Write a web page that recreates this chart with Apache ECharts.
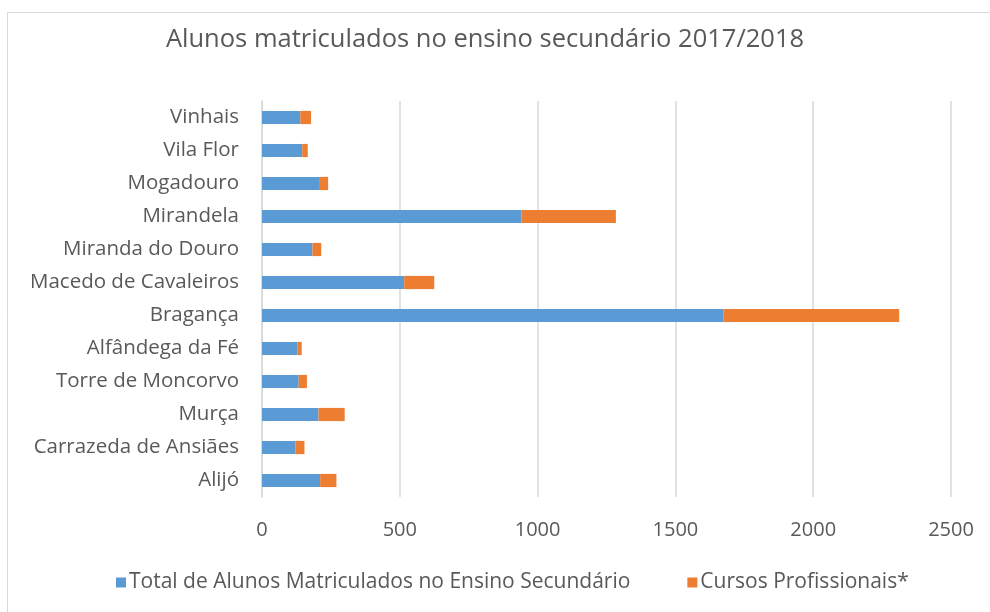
<!DOCTYPE html>
<html>
<head>
<meta charset="utf-8">
<script src="https://cdn.jsdelivr.net/npm/echarts@6/dist/echarts.min.js"></script>
<style>
  html, body { margin: 0; padding: 0; background: #fff; }
  #chart { width: 990px; height: 612px; }
</style>
</head>
<body>
<div id="chart"></div>
<script>
// Municipalities, listed bottom to top as drawn on the category axis
const categories = [
  'Alijó', 'Carrazeda de Ansiães', 'Murça', 'Torre de Moncorvo',
  'Alfândega da Fé', 'Bragança', 'Macedo de Cavaleiros', 'Miranda do Douro',
  'Mirandela', 'Mogadouro', 'Vila Flor', 'Vinhais'
];
const totalSecundario = [211, 121, 205, 133, 128, 1675, 516, 183, 942, 207, 146, 139];
const cursosProfissionais = [59, 33, 95, 30, 16, 637, 109, 32, 342, 33, 20, 39];
const xTicks = [0, 500, 1000, 1500, 2000, 2500];

const chart = echarts.init(document.getElementById('chart'));
const textColor = '#595959';
const font = '"Open Sans", "Noto Sans", sans-serif';

chart.setOption({
  animation: false,
  textStyle: { fontFamily: font, color: textColor },
  title: {
    text: 'Alunos matriculados no ensino secundário 2017/2018',
    left: 480, top: 22, textAlign: 'center',
    textStyle: { fontFamily: font, fontSize: 25.5, fontWeight: 'normal', color: textColor }
  },
  graphic: [{
    type: 'rect', silent: true, z: -1,
    shape: { x: 7.5, y: 12.5, width: 1000, height: 700 },
    style: { fill: 'none', stroke: '#d9d9d9', lineWidth: 1 }
  }],
  legend: {
    top: 567, left: 111,
    itemWidth: 10, itemHeight: 10, itemGap: 57,
    icon: 'rect',
    textStyle: { fontFamily: font, fontSize: 21, color: textColor, padding: [0, 0, 0, -2] },
    data: ['Total de Alunos Matriculados no Ensino Secundário', 'Cursos Profissionais*']
  },
  grid: { left: 262, right: 39, top: 101, bottom: 115, containLabel: false },
  xAxis: {
    type: 'value', min: xTicks[0], max: xTicks[xTicks.length - 1], interval: 500,
    axisLine: { show: false }, axisTick: { show: false },
    splitLine: { lineStyle: { color: '#d9d9d9', width: 1.5 } },
    axisLabel: {
      fontFamily: font, fontSize: 20, color: textColor, margin: 23,
      formatter: v => String(v)
    }
  },
  yAxis: {
    type: 'category', data: categories,
    axisLine: { show: true, lineStyle: { color: '#d9d9d9', width: 1.5 } },
    axisTick: { show: false },
    axisLabel: { fontFamily: font, fontSize: 20.5, color: textColor, margin: 23 }
  },
  series: [
    {
      name: 'Total de Alunos Matriculados no Ensino Secundário',
      type: 'bar', stack: 'total', data: totalSecundario,
      barCategoryGap: '60%',
      itemStyle: { color: '#5b9bd5' }
    },
    {
      name: 'Cursos Profissionais*',
      type: 'bar', stack: 'total', data: cursosProfissionais,
      barCategoryGap: '60%',
      itemStyle: { color: '#ed7d31' }
    }
  ]
});
</script>
</body>
</html>
